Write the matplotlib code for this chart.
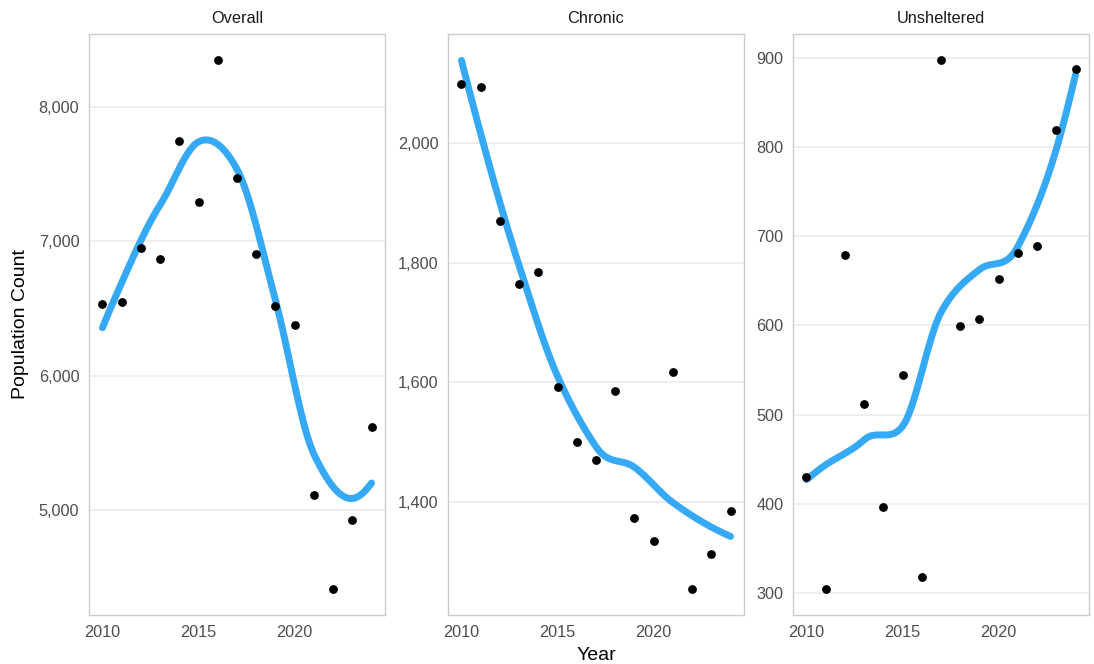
import numpy as np
import matplotlib
matplotlib.use("Agg")
import matplotlib.pyplot as plt
from matplotlib.ticker import FuncFormatter, FixedLocator

plt.rcParams["font.family"] = ["Liberation Sans", "DejaVu Sans"]

years = [2010, 2011, 2012, 2013, 2014, 2015, 2016, 2017, 2018, 2019, 2020, 2021, 2022, 2023, 2024]

overall = [6537, 6545, 6953, 6865, 7745, 7296, 8346, 7469, 6903, 6519, 6378, 5114, 4416, 4924, 5619]
chronic = [2098, 2093, 1870, 1764, 1785, 1593, 1501, 1470, 1585, 1374, 1336, 1618, 1256, 1313, 1386]
unsheltered = [430, 305, 679, 512, 396, 544, 318, 897, 599, 607, 652, 681, 689, 819, 887]

panel_titles = ["Overall", "Chronic", "Unsheltered"]
x_ticks = [2010, 2015, 2020]
y_ticks = [
    [5000, 6000, 7000, 8000],
    [1400, 1600, 1800, 2000],
    [300, 400, 500, 600, 700, 800, 900],
]

LINE_COLOR = "#35A8F6"
GRID_COLOR = "#EBEBEB"
BORDER_COLOR = "#CCCCCC"
TICK_COLOR = "#4D4D4D"


def local_fit(x, y, x0, span):
    """Local quadratic fit with tricube weights; returns value and slope at x0."""
    n = len(x)
    q = int(np.floor(span * n))
    d = np.abs(x - x0)
    h = np.sort(d)[q - 1] * max(1.0, span)
    w = np.clip(1 - (d / h) ** 3, 0, None) ** 3
    X = np.column_stack([np.ones(n), x - x0, (x - x0) ** 2])
    sw = np.sqrt(w)
    beta, *_ = np.linalg.lstsq(X * sw[:, None], y * sw, rcond=None)
    return beta[0], beta[1]


def loess(x, y, xs, span=0.75, cell=0.2):
    """1-D loess: exact fits at kd-tree vertices, cubic Hermite in between."""
    x = np.asarray(x, float)
    y = np.asarray(y, float)
    order = np.argsort(x)
    xsorted = x[order]
    n = len(x)
    fc = int(np.floor(n * span * cell))
    margin = 0.005 * (xsorted[-1] - xsorted[0])
    verts = {xsorted[0] - margin, xsorted[-1] + margin}

    def split(l, u, lo_v, hi_v):
        if u - l + 1 <= fc:
            return
        m = (l + u) // 2
        v = xsorted[m - 1]
        if v == lo_v or v == hi_v:
            return
        verts.add(v)
        split(l, m, lo_v, v)
        split(m + 1, u, v, hi_v)

    split(1, n, xsorted[0] - margin, xsorted[-1] + margin)
    vx = np.array(sorted(verts))
    vals = np.array([local_fit(x, y, v, span) for v in vx])
    f, df = vals[:, 0], vals[:, 1]

    out = np.empty(len(xs))
    for i, t in enumerate(xs):
        j = min(np.searchsorted(vx, t, side="right") - 1, len(vx) - 2)
        j = max(j, 0)
        x0, x1 = vx[j], vx[j + 1]
        hgt = x1 - x0
        s = (t - x0) / hgt
        h00 = 2 * s**3 - 3 * s**2 + 1
        h10 = s**3 - 2 * s**2 + s
        h01 = -2 * s**3 + 3 * s**2
        h11 = s**3 - s**2
        out[i] = h00 * f[j] + h10 * hgt * df[j] + h01 * f[j + 1] + h11 * hgt * df[j + 1]
    return out


W_PX, H_PX = 1094, 664
fig = plt.figure(figsize=(W_PX / 100, H_PX / 100), dpi=100)
fig.patch.set_facecolor("white")

panel_left = [89, 448, 793]
panel_w = 296
panel_top, panel_bottom = 34, 615

series = [overall, chronic, unsheltered]
xs = np.linspace(min(years), max(years), 80)

for k, (vals, title) in enumerate(zip(series, panel_titles)):
    ax = fig.add_axes([
        panel_left[k] / W_PX,
        (H_PX - panel_bottom) / H_PX,
        panel_w / W_PX,
        (panel_bottom - panel_top) / H_PX,
    ])
    fit = loess(years, vals, xs)

    ax.plot(xs, fit, color=LINE_COLOR, lw=5, solid_capstyle="round", zorder=3)
    ax.scatter(years, vals, s=40, color="black", zorder=4, linewidths=0)

    lo = min(min(vals), fit.min())
    hi = max(max(vals), fit.max())
    pad = (hi - lo) * 0.05
    ax.set_ylim(lo - pad, hi + pad)
    xpad = (max(years) - min(years)) * 0.05
    ax.set_xlim(min(years) - xpad, max(years) + xpad)

    ax.yaxis.set_major_locator(FixedLocator(y_ticks[k]))
    ax.xaxis.set_major_locator(FixedLocator(x_ticks))
    ax.yaxis.set_major_formatter(FuncFormatter(lambda v, p: f"{v:,.0f}"))
    ax.grid(axis="y", color=GRID_COLOR, lw=1.2)
    ax.set_axisbelow(True)
    ax.tick_params(length=0, labelsize=11.7, labelcolor=TICK_COLOR)
    ax.tick_params(axis="y", pad=7)
    ax.tick_params(axis="x", pad=7)
    for s in ax.spines.values():
        s.set_color(BORDER_COLOR)
        s.set_linewidth(1.0)
    ax.set_title(title, fontsize=11.8, color="#1A1A1A", pad=8)

fig.text(21 / W_PX, 1 - ((panel_top + panel_bottom) / 2) / H_PX, "Population Count",
         rotation=90, ha="center", va="center", fontsize=14, color="black")
fig.text(((448 + 448 + panel_w) / 2) / W_PX, 1 - 655 / H_PX, "Year",
         ha="center", va="center", fontsize=14, color="black")

fig.savefig("out.png", dpi=100, facecolor="white")
